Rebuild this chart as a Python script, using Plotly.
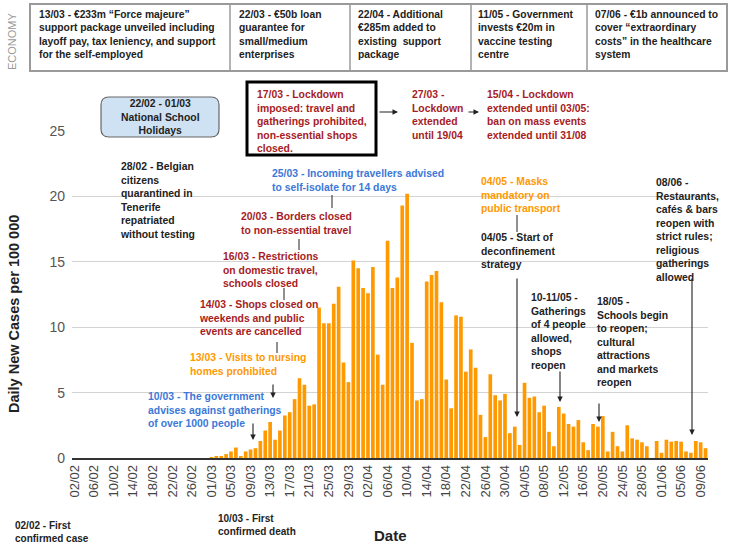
import plotly.graph_objects as go
import pandas as pd

# ---------------- data ----------------
dates = pd.date_range("2020-02-02", "2020-06-10", freq="D").strftime("%d/%m").tolist()
cases = [
    0, 0, 0, 0, 0, 0, 0, 0, 0, 0, 0, 0, 0, 0,
    0, 0, 0, 0, 0, 0, 0, 0, 0, 0, 0, 0, 0, 0,
    0.05, 0.1, 0.15, 0.3, 0.5, 0.8, 0.1, 0.5, 0.65, 0.75,
    1.3, 2.1, 2.75, 1.4, 2.1, 3.25, 3.5, 4.5, 6.1, 5.6,
    4.0, 4.1, 11.5, 10.3, 10.3, 11.8, 13.1, 7.3, 5.8, 15.1,
    14.5, 13.0, 12.6, 14.6, 7.9, 5.6, 16.6, 13.0, 13.8, 19.3,
    20.2, 8.8, 4.4, 4.5, 13.5, 14.0, 14.3, 11.9, 6.0, 3.8,
    10.9, 10.8, 6.6, 8.3, 6.9, 3.3, 1.6, 6.4, 4.8, 4.4,
    4.9, 1.9, 2.4, 1.0, 5.75, 4.6, 4.7, 3.5, 4.0, 2.0,
    0.9, 3.9, 3.4, 2.6, 2.4, 2.9, 1.2, 0.6, 2.6, 2.4,
    3.2, 0.5, 2.0, 0.9, 0.5, 2.5, 1.5, 1.4, 1.2, 0.9,
    0.0, 1.3, 0.4, 1.4, 1.25, 1.3, 1.25, 0.5, 0.4, 1.3,
    1.2, 0.75,
]
tick_labels = dates[::4]
y_ticks = [0, 5, 10, 15, 20, 25]

economy_notes = [
    "13/03 - €233m “Force majeure”<br>support package unveiled including<br>layoff pay, tax leniency, and support<br>for the self-employed",
    "22/03 - €50b loan<br>guarantee for<br>small/medium<br>enterprises",
    "22/04 - Additional<br>€285m added to<br>existing  support<br>package",
    "11/05 - Government<br>invests €20m in<br>vaccine testing<br>centre",
    "07/06 - €1b announced to<br>cover “extraordinary<br>costs” in the healthcare<br>system",
]

RED = "#a61c24"
BLUE = "#3c78d8"
ORANGE = "#ff9900"
BLACK = "#222222"
FONT = "Liberation Sans, Arial, sans-serif"

# ---------------- layout helpers (pixel -> paper) ----------------
L, R, T, B = 72, 708, 131, 458
W, H = R - L, B - T


def px(x):
    return (x - L) / W


def py(y):
    return (B - y) / H


annotations = []
shapes = []


def note(text, x, yc, color, size=10.4, xanchor="left", align="left", bold=True):
    t = f"<b>{text}</b>" if bold else text
    annotations.append(dict(
        text=t, x=px(x), y=py(yc - 8), xref="paper", yref="paper",
        xanchor=xanchor, yanchor="top", align=align, showarrow=False,
        font=dict(family=FONT, size=size, color=color)))


def arrow(x0, y0, x1, y1):
    annotations.append(dict(
        text="", x=px(x1), y=py(y1), xref="paper", yref="paper",
        ax=x0 - x1, ay=y0 - y1, showarrow=True, arrowhead=2, arrowsize=1,
        arrowwidth=1.1, arrowcolor=BLACK, standoff=0))


def line(x0, y0, x1, y1):
    shapes.append(dict(type="line", xref="paper", yref="paper",
                       x0=px(x0), y0=py(y0), x1=px(x1), y1=py(y1),
                       line=dict(color=BLACK, width=1)))


# economy table
shapes.append(dict(type="rect", xref="paper", yref="paper",
                   x0=px(30), x1=px(727), y0=py(71), y1=py(4),
                   line=dict(color="#9a9a9a", width=2)))
for xd in [230, 350, 471, 587]:
    shapes.append(dict(type="line", xref="paper", yref="paper",
                       x0=px(xd), x1=px(xd), y0=py(71), y1=py(4),
                       line=dict(color="#9a9a9a", width=1.5)))
for txt, xs in zip(economy_notes, [37, 237, 356, 476, 593]):
    note(txt, xs, 15, BLACK, size=10.3)
annotations.append(dict(text="ECONOMY", x=px(12), y=py(41), xref="paper", yref="paper",
                        xanchor="center", yanchor="middle", showarrow=False, textangle=-90,
                        font=dict(family=FONT, size=11, color="#999999")))
annotations.append(dict(text="<b>Daily New Cases per 100 000</b>", x=px(14), y=py(314),
                        xref="paper", yref="paper", xanchor="center", yanchor="middle",
                        showarrow=False, textangle=-90,
                        font=dict(family=FONT, size=14.5, color=BLACK)))

# school holidays rounded box
x0, x1, y0, y1 = px(101), px(219), py(137), py(97)
rx, ry = 8 / W, 8 / H
path = (f"M {x0+rx},{y1} L {x1-rx},{y1} Q {x1},{y1} {x1},{y1-ry} "
        f"L {x1},{y0+ry} Q {x1},{y0} {x1-rx},{y0} L {x0+rx},{y0} "
        f"Q {x0},{y0} {x0},{y0+ry} L {x0},{y1-ry} Q {x0},{y1} {x0+rx},{y1} Z")
shapes.append(dict(type="path", xref="paper", yref="paper", path=path,
                   fillcolor="#cfe2f3", line=dict(color="#666666", width=1.2)))
annotations.append(dict(text="<b>22/02 - 01/03<br>National School<br>Holidays</b>",
                        x=px(160), y=py(117), xref="paper", yref="paper",
                        xanchor="center", yanchor="middle", align="center", showarrow=False,
                        font=dict(family=FONT, size=10.4, color=BLACK)))

# lockdown box
shapes.append(dict(type="rect", xref="paper", yref="paper",
                   x0=px(247), x1=px(376), y0=py(155), y1=py(82),
                   line=dict(color="#000000", width=3)))
note("17/03 - Lockdown<br>imposed: travel and<br>gatherings prohibited,<br>non-essential shops<br>closed.", 255, 95, RED)
arrow(378, 112, 398, 112)
note("27/03 -<br>Lockdown<br>extended<br>until 19/04", 410, 95, RED)
arrow(467, 112, 479, 112)
note("15/04 - Lockdown<br>extended until 03/05:<br>ban on mass events<br>extended until 31/08", 485, 95, RED)

note("28/02 - Belgian<br>citizens<br>quarantined in<br>Tenerife<br>repatriated<br>without testing", 118, 167, BLACK)
note("25/03 - Incoming travellers advised<br>to self-isolate for 14 days", 270, 174, BLUE)
line(332, 195, 332, 208)
note("20/03 - Borders closed<br>to non-essential travel", 239, 217, RED)
line(299, 239, 299, 250)
note("16/03 - Restrictions<br>on domestic travel,<br>schools closed", 221, 257, RED)
line(284, 288, 284, 300)
note("14/03 - Shops closed on<br>weekends and public<br>events are cancelled", 197, 305, RED)
line(277, 342, 277, 353)
note("13/03 - Visits to nursing<br>homes prohibited", 188, 358, ORANGE)
arrow(273, 383, 273, 398)
note("10/03 - The government<br>advises against gatherings<br>of over 1000 people", 146, 397, BLUE)
arrow(253, 422, 253, 440)

note("04/05 - Masks<br>mandatory on<br>public transport", 479, 182, ORANGE)
line(517, 215, 517, 232)
note("04/05 - Start of<br>deconfinement<br>strategy", 479, 238, BLACK)
arrow(517, 277, 517, 417)
note("10-11/05 -<br>Gatherings<br>of 4 people<br>allowed,<br>shops<br>reopen", 529, 298, BLACK)
arrow(560, 370, 560, 402)
note("18/05 -<br>Schools begin<br>to reopen;<br>cultural<br>attractions<br>and markets<br>reopen", 595, 302, BLACK)
arrow(599, 402, 599, 422)
note("08/06 -<br>Restaurants,<br>cafés &amp; bars<br>reopen with<br>strict rules;<br>religious<br>gatherings<br>allowed", 654, 183, BLACK)
arrow(692, 277, 692, 435)

note("02/02 - First<br>confirmed case", 13, 526, BLACK, size=10)
note("10/03 - First<br>confirmed death", 216, 519, BLACK, size=10)
annotations.append(dict(text="<b>Date</b>", x=px(390), y=py(535), xref="paper", yref="paper",
                        xanchor="center", yanchor="middle", showarrow=False,
                        font=dict(family=FONT, size=15, color=BLACK)))

# ---------------- figure ----------------
fig = go.Figure(go.Bar(x=dates, y=cases, marker=dict(color=ORANGE, line=dict(width=0)),
                       hoverinfo="x+y"))
fig.update_layout(
    width=729, height=549,
    margin=dict(l=L, r=729 - R, t=T, b=549 - B, pad=0),
    paper_bgcolor="white", plot_bgcolor="white",
    bargap=0.25, showlegend=False,
    font=dict(family=FONT),
    annotations=annotations, shapes=shapes,
)
fig.update_xaxes(type="category", categoryorder="array", categoryarray=dates,
                 tickmode="array", tickvals=tick_labels, ticktext=tick_labels,
                 tickangle=-90, tickfont=dict(family=FONT, size=13, color="#444444"),
                 showgrid=False, showline=True, linecolor="#333333", linewidth=1.5,
                 ticks="", zeroline=False)
fig.update_yaxes(range=[0, 25], tickmode="array", tickvals=y_ticks,
                 tickfont=dict(family=FONT, size=14, color="#555555"),
                 showgrid=True, gridcolor="#d3d3d3", gridwidth=1, zeroline=False,
                 ticks="", ticklabelstandoff=6)

fig.write_html(
    "out.html",
    config={"displayModeBar": False},
    post_script="document.body.style.margin='0px';document.body.style.overflow='hidden';",
)
